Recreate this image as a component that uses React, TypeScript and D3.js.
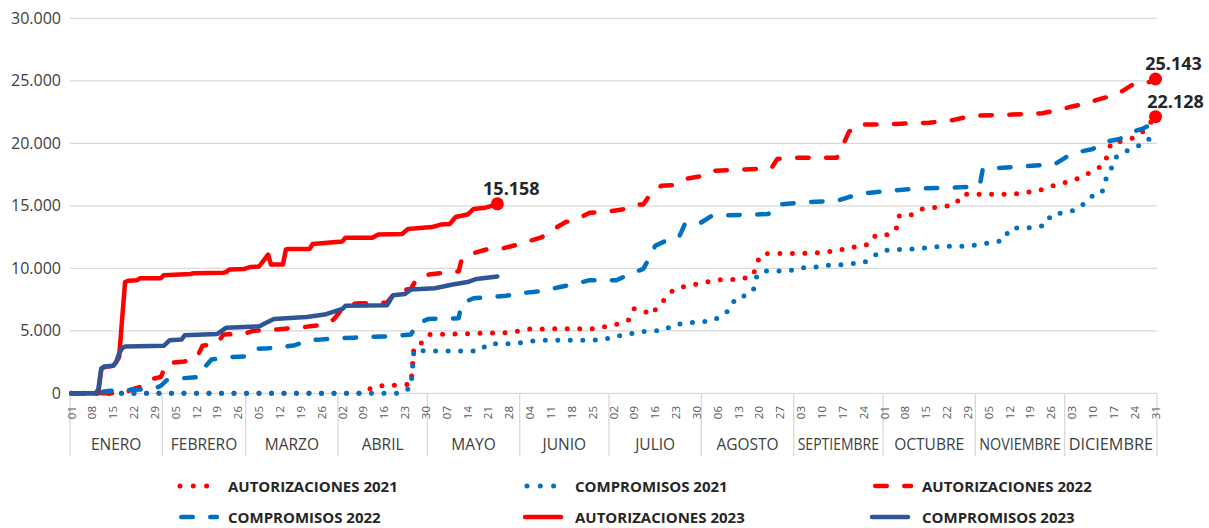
import { formatLocale, line, scaleLinear, select } from "d3";
import { FC, useEffect, useRef } from "react";

const W = 1209;
const H = 528;

const RED = "#ff0000";
const BLUE = "#0070c0";
const NAVY = "#2f5597";

const months = [
  "ENERO", "FEBRERO", "MARZO", "ABRIL", "MAYO", "JUNIO",
  "JULIO", "AGOSTO", "SEPTIEMBRE", "OCTUBRE", "NOVIEMBRE", "DICIEMBRE"
];
const monthDays = [31, 28, 31, 30, 31, 30, 31, 31, 30, 31, 30, 31];

// weekly tick labels (one every 7 days from 01 Jan)
const dayTicks = [
  "01", "08", "15", "22", "29",
  "05", "12", "19", "26",
  "05", "12", "19", "26",
  "02", "09", "16", "23", "30",
  "07", "14", "21", "28",
  "04", "11", "18", "25",
  "02", "09", "16", "23", "30",
  "06", "13", "20", "27",
  "03", "10", "17", "24",
  "01", "08", "15", "22", "29",
  "05", "12", "19", "26",
  "03", "10", "17", "24", "31"
];

const yTicks = [0, 5000, 10000, 15000, 20000, 25000, 30000];

type Pt = [number, number]; // [day of year (0-based), value]

const autorizaciones2021: Pt[] = [
  [0, 0], [98, 0], [101, 500], [105, 640], [110, 650], [114, 720], [115, 3700],
  [118, 4100], [120, 4700], [130, 4750], [141, 4830], [146, 4850], [150, 4980],
  [154, 5150], [175, 5170], [180, 5360], [184, 5580], [187, 5850], [189, 6780],
  [192, 6600], [195, 6300], [197, 7050], [199, 7450], [202, 8250], [205, 8500],
  [209, 8700], [213, 8900], [217, 9080], [225, 9120], [229, 9450], [230, 10420],
  [232, 11170], [249, 11200], [252, 11300], [257, 11380], [261, 11680],
  [265, 11720], [268, 11970], [270, 12640], [275, 12700], [277, 13200],
  [278, 14240], [282, 14290], [285, 14720], [289, 14850], [294, 14980],
  [297, 15170], [299, 15920], [316, 15920], [320, 16050], [325, 16240],
  [329, 16560], [333, 16820], [336, 17040], [340, 17360], [343, 17840],
  [346, 18160], [348, 19040], [349, 20030], [353, 20190], [357, 20450],
  [360, 20980], [364, 22128]
];

const compromisos2021: Pt[] = [
  [0, 0], [111, 0], [114, 500], [115, 3440], [120, 3390], [137, 3390],
  [140, 3970], [149, 3970], [153, 4130], [157, 4240], [174, 4240], [179, 4290],
  [182, 4560], [186, 4640], [190, 4900], [194, 4960], [199, 5040], [202, 5490],
  [206, 5570], [210, 5710], [215, 5760], [218, 6160], [221, 6690], [223, 7630],
  [227, 7840], [229, 8290], [230, 9300], [232, 9790], [241, 9790], [245, 10030],
  [249, 10050], [253, 10240], [257, 10240], [262, 10370], [266, 10420],
  [269, 10900], [272, 11390], [276, 11490], [280, 11520], [284, 11570],
  [289, 11700], [293, 11760], [301, 11760], [305, 11920], [309, 12050],
  [313, 12240], [315, 13170], [319, 13250], [323, 13250], [327, 13440],
  [329, 14290], [333, 14450], [337, 14640], [340, 15170], [342, 15700],
  [346, 16020], [347, 16980], [349, 17840], [350, 18770], [353, 19220],
  [357, 19700], [360, 19920], [364, 20830]
];

const autorizaciones2022: Pt[] = [
  [0, 0], [18, 0], [20, 300], [23, 500], [26, 1100], [30, 1300], [32, 2400],
  [38, 2550], [42, 2800], [44, 3800], [49, 4000], [51, 4700], [58, 4750],
  [61, 5000], [69, 5100], [75, 5250], [78, 5300], [85, 5500], [88, 5900],
  [92, 7100], [97, 7200], [106, 7250], [109, 8200], [114, 8350], [116, 9200],
  [120, 9500], [125, 9650], [130, 9750], [131, 10700], [134, 11150],
  [140, 11550], [145, 11600], [149, 11850], [154, 12200], [158, 12500],
  [162, 13150], [166, 13700], [170, 13950], [174, 14450], [179, 14500],
  [185, 14700], [189, 15100], [192, 15100], [194, 15800], [198, 16600],
  [202, 16650], [206, 17150], [211, 17350], [215, 17800], [220, 17850],
  [230, 17950], [235, 18000], [237, 18750], [242, 18850], [257, 18850],
  [259, 19800], [261, 20900], [264, 21500], [268, 21500], [277, 21550],
  [288, 21650], [294, 21800], [296, 21850], [302, 22200], [316, 22300],
  [326, 22400], [332, 22700], [336, 22950], [341, 23200], [344, 23450],
  [350, 23850], [353, 24200], [357, 24800], [362, 24900], [364, 25143]
];

const compromisos2022: Pt[] = [
  [0, 0], [9, 0], [11, 150], [13, 200], [19, 250], [23, 300], [28, 400],
  [30, 600], [32, 1050], [37, 1200], [43, 1300], [44, 1900], [47, 2700],
  [53, 2900], [58, 2950], [61, 3550], [66, 3600], [71, 3700], [75, 3850],
  [80, 4250], [84, 4300], [89, 4400], [95, 4450], [99, 4500], [105, 4550],
  [109, 4600], [114, 4700], [116, 5600], [120, 5950], [130, 6000], [131, 7200],
  [135, 7600], [140, 7700], [146, 7800], [150, 8000], [155, 8100], [158, 8200],
  [164, 8500], [169, 8750], [174, 9050], [183, 9050], [188, 9600], [192, 9950],
  [194, 10800], [196, 11800], [200, 12250], [204, 12500], [206, 13550],
  [211, 13600], [215, 14200], [229, 14300], [234, 14350], [237, 15100],
  [247, 15300], [257, 15400], [261, 15700], [266, 16000], [277, 16250],
  [286, 16400], [296, 16450], [301, 16500], [305, 16650], [306, 17950],
  [316, 18100], [326, 18250], [330, 18300], [334, 18900], [338, 19300],
  [343, 19550], [347, 20100], [352, 20350], [356, 20900], [360, 21200],
  [364, 21700]
];

const autorizaciones2023: Pt[] = [
  [0, 0], [9, 0], [10, 1900], [11, 2100], [14, 2200], [15, 2500], [16, 2900],
  [18, 8900], [19, 9000], [22, 9050], [23, 9200], [30, 9200], [31, 9450],
  [40, 9550], [41, 9600], [51, 9650], [52, 9700], [53, 9900], [58, 9950],
  [60, 10100], [63, 10150], [64, 10450], [66, 11100], [67, 10300], [71, 10300],
  [72, 11500], [73, 11550], [80, 11550], [81, 11950], [91, 12150], [92, 12450],
  [101, 12450], [103, 12700], [111, 12750], [113, 13150], [121, 13300],
  [124, 13500], [127, 13550], [129, 14100], [133, 14300], [135, 14750],
  [139, 14850], [141, 15000], [143, 15158]
];

const compromisos2023: Pt[] = [
  [0, 0], [8, 0], [9, 300], [10, 2000], [11, 2150], [14, 2200], [15, 2500],
  [16, 3200], [17, 3600], [18, 3750], [31, 3800], [33, 4250], [37, 4300],
  [38, 4650], [49, 4750], [52, 5250], [63, 5350], [65, 5600], [68, 5950],
  [79, 6100], [85, 6300], [91, 6750], [92, 7000], [106, 7050], [108, 7850],
  [112, 7950], [114, 8300], [122, 8400], [128, 8700], [133, 8900],
  [136, 9150], [143, 9350]
];

const es = formatLocale({ decimal: ",", thousands: ".", grouping: [3], currency: ["", ""] });
const fmt = es.format(",");

type Dash = "dot" | "dash" | "solid";
const dashArray = (d: Dash) => (d === "dot" ? "0 12.5" : d === "dash" ? "11.5 17.5" : null);
const strokeW = (d: Dash) => (d === "dot" ? 5 : 4.5);

const series = [
  { name: "AUTORIZACIONES 2021", data: autorizaciones2021, color: RED, dash: "dot" as Dash, label: true, ldx: 20 },
  { name: "COMPROMISOS 2021", data: compromisos2021, color: BLUE, dash: "dot" as Dash, label: false, ldx: 0 },
  { name: "AUTORIZACIONES 2022", data: autorizaciones2022, color: RED, dash: "dash" as Dash, label: true, ldx: 18 },
  { name: "COMPROMISOS 2022", data: compromisos2022, color: BLUE, dash: "dash" as Dash, label: false, ldx: 0 },
  { name: "AUTORIZACIONES 2023", data: autorizaciones2023, color: RED, dash: "solid" as Dash, label: true, ldx: 14 },
  { name: "COMPROMISOS 2023", data: compromisos2023, color: NAVY, dash: "solid" as Dash, label: false, ldx: 0 }
];

const FONT = "'Open Sans', 'Noto Sans', sans-serif";

const Chart: FC = () => {
  const svgRef = useRef<SVGSVGElement>(null);

  useEffect(() => {
    const svg = select(svgRef.current);
    svg.selectAll("*").remove();

    const left = 70;
    const right = 1157;
    const x = scaleLinear().domain([-0.5, 364.5]).range([left, right]);
    const y = scaleLinear().domain([0, 30000]).range([393.3, 18.3]);

    // gridlines
    svg.append("g")
      .selectAll("line")
      .data(yTicks)
      .join("line")
      .attr("x1", left)
      .attr("x2", right)
      .attr("y1", (d) => y(d))
      .attr("y2", (d) => y(d))
      .attr("stroke", "#d9d9d9")
      .attr("stroke-width", 1.3);

    svg.append("g")
      .selectAll("text")
      .data(yTicks)
      .join("text")
      .attr("x", 61)
      .attr("y", (d) => y(d))
      .attr("dy", "0.35em")
      .attr("text-anchor", "end")
      .attr("font-family", FONT)
      .attr("font-size", 16)
      .attr("fill", "#404040")
      .text((d) => fmt(d));

    // month boundaries
    const starts: number[] = [];
    monthDays.reduce((acc, n) => {
      starts.push(acc);
      return acc + n;
    }, 0);
    const bounds = [...starts, 365];

    svg.append("g")
      .selectAll("line")
      .data(bounds)
      .join("line")
      .attr("x1", (d) => x(d - 0.5))
      .attr("x2", (d) => x(d - 0.5))
      .attr("y1", y(0))
      .attr("y2", 456)
      .attr("stroke", "#d9d9d9")
      .attr("stroke-width", 1.3);

    svg.append("g")
      .selectAll("text")
      .data(months)
      .join("text")
      .attr("x", (_, i) => (x(bounds[i] - 0.5) + x(bounds[i + 1] - 0.5)) / 2)
      .attr("y", 450)
      .attr("text-anchor", "middle")
      .attr("font-family", FONT)
      .attr("font-size", 15.5)
      .attr("fill", "#404040")
      .attr("textLength", (d, i) => (d.length >= 9 ? x(bounds[i + 1]) - x(bounds[i]) - 8 : null))
      .attr("lengthAdjust", "spacingAndGlyphs")
      .text((d) => d);

    // day ticks
    svg.append("g")
      .selectAll("text")
      .data(dayTicks)
      .join("text")
      .attr("transform", (_, i) => `translate(${x(i * 7)},406) rotate(-90)`)
      .attr("text-anchor", "end")
      .attr("dy", "0.35em")
      .attr("font-family", FONT)
      .attr("font-size", 11.5)
      .attr("fill", "#595959")
      .text((d) => d);

    const path = line<Pt>()
      .x((d) => x(d[0]))
      .y((d) => y(d[1]));

    series.forEach((s) => {
      svg.append("path")
        .attr("d", path(s.data))
        .attr("fill", "none")
        .attr("stroke", s.color)
        .attr("stroke-width", strokeW(s.dash))
        .attr("stroke-dasharray", dashArray(s.dash))
        .attr("stroke-linecap", "round")
        .attr("stroke-linejoin", "round");
    });

    series.filter((s) => s.label).forEach((s) => {
      const last = s.data[s.data.length - 1];
      svg.append("circle")
        .attr("cx", x(last[0]))
        .attr("cy", y(last[1]))
        .attr("r", 6.5)
        .attr("fill", RED);
      svg.append("text")
        .attr("x", x(last[0]) + s.ldx)
        .attr("y", y(last[1]) - 9)
        .attr("text-anchor", "middle")
        .attr("font-family", FONT)
        .attr("font-weight", 700)
        .attr("font-size", 18)
        .attr("fill", "#262626")
        .text(fmt(last[1]));
    });

    // legend
    const legend = svg.append("g");
    series.forEach((s, i) => {
      const col = i % 3;
      const row = Math.floor(i / 3);
      const x0 = 176 + col * 347;
      const cy = 486 + row * 31;
      const x1 = s.dash === "dot" ? x0 + 4 : s.dash === "dash" ? x0 + 5.25 : x0 + 2;
      const x2 = s.dash === "dot" ? x0 + 31 : s.dash === "dash" ? x0 + 41 : x0 + 38;
      legend.append("line")
        .attr("x1", x1)
        .attr("x2", x2)
        .attr("y1", cy)
        .attr("y2", cy)
        .attr("stroke", s.color)
        .attr("stroke-width", strokeW(s.dash))
        .attr("stroke-dasharray", s.dash === "dot" ? "0 13.3" : dashArray(s.dash))
        .attr("stroke-linecap", "round");
      legend.append("text")
        .attr("x", x0 + 52)
        .attr("y", cy + 5.5)
        .attr("font-family", FONT)
        .attr("font-weight", 700)
        .attr("font-size", 15)
        .attr("fill", "#262626")
        .text(s.name);
    });
  }, []);

  return (
    <svg
      ref={svgRef}
      width={W}
      height={H}
      style={{ position: "absolute", left: 0, top: 0, background: "#fff" }}
    />
  );
};

export default function App() {
  return <Chart />;
}
